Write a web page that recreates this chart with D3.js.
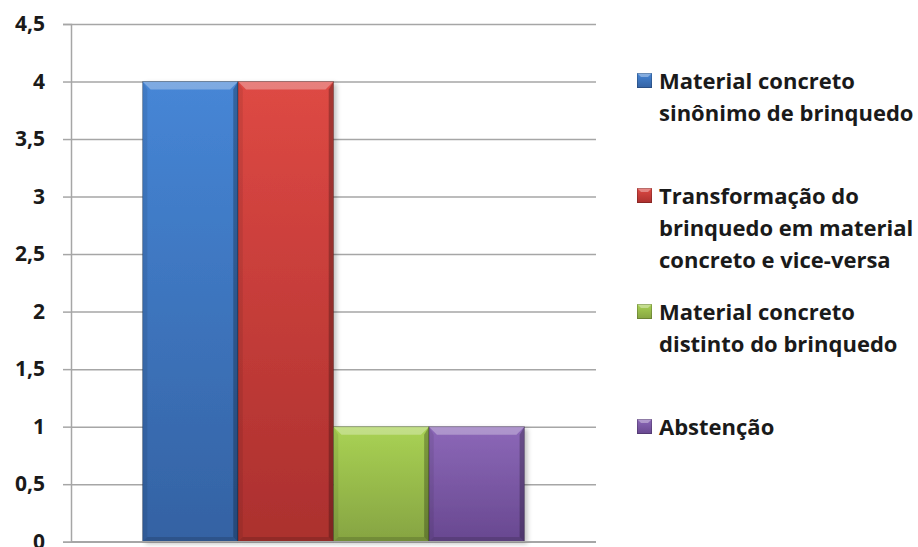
<!DOCTYPE html>
<html>
<head>
<meta charset="utf-8">
<script src="https://cdn.jsdelivr.net/npm/d3@7"></script>
<style>
  html, body { margin: 0; padding: 0; background: #fff; }
  svg { display: block; }
  text { font-family: "Open Sans", Lato, sans-serif; font-weight: 700; fill: #1a1a1a; }
</style>
</head>
<body>
<svg id="chart" width="918" height="547"></svg>
<script>
// Survey result: one category, four answer series
const category = ["Respostas"];
const seriesNames = [
  ["Material concreto", "sinônimo de brinquedo"],
  ["Transformação do", "brinquedo em material", "concreto e vice-versa"],
  ["Material concreto", "distinto do brinquedo"],
  ["Abstenção"]
];
const seriesValues = [4, 4, 1, 1];
const yTicks = [0, 0.5, 1, 1.5, 2, 2.5, 3, 3.5, 4, 4.5];
const seriesColors = [
  { top: "#4686d6", bottom: "#3462a3" },
  { top: "#de4944", bottom: "#ab302e" },
  { top: "#a9d254", bottom: "#86a442" },
  { top: "#8c68b8", bottom: "#684890" }
];

const svg = d3.select("#chart");
const plot = { left: 71, right: 596, top: 24, bottom: 541.7 };

const y = d3.scaleLinear().domain([0, 4.5]).range([plot.bottom, plot.top]);
const x0 = d3.scaleBand().domain(category).range([plot.left, plot.right]).padding(1.5 / 9.5);
const x1 = d3.scaleBand().domain(d3.range(seriesValues.length)).range([0, x0.bandwidth()]);

const defs = svg.append("defs");
seriesColors.forEach((c, i) => {
  const g = defs.append("linearGradient").attr("id", "fill" + i)
    .attr("x1", 0).attr("y1", 0).attr("x2", 0).attr("y2", 1);
  g.append("stop").attr("offset", "0%").attr("stop-color", c.top);
  g.append("stop").attr("offset", "100%").attr("stop-color", c.bottom);
});
const shadow = defs.append("filter").attr("id", "shadow")
  .attr("x", "-20%").attr("y", "-5%").attr("width", "140%").attr("height", "110%");
shadow.append("feGaussianBlur").attr("in", "SourceAlpha").attr("stdDeviation", 2.5);
shadow.append("feOffset").attr("dx", 3).attr("dy", 2).attr("result", "off");
shadow.append("feComponentTransfer").append("feFuncA").attr("type", "linear").attr("slope", 0.25);
const merge = shadow.append("feMerge");
merge.append("feMergeNode");
merge.append("feMergeNode").attr("in", "SourceGraphic");

// Gridlines
const grid = svg.append("g")
  .attr("transform", `translate(${plot.left},0)`)
  .call(d3.axisLeft(y).tickValues(yTicks).tickSize(-(plot.right - plot.left)).tickFormat(""));
grid.select(".domain").remove();
grid.selectAll("line").attr("stroke", "#a6a6a6").attr("stroke-width", 1.5);

// Y axis with comma decimals
const fmt = v => String(v).replace(".", ",");
const yAxis = svg.append("g")
  .attr("transform", `translate(${plot.left},0)`)
  .call(d3.axisLeft(y).tickValues(yTicks).tickSize(8).tickPadding(18).tickFormat(fmt));
yAxis.select(".domain").attr("stroke", "#a6a6a6").attr("stroke-width", 1.5);
yAxis.selectAll(".tick line").attr("stroke", "#a6a6a6").attr("stroke-width", 1.5);
yAxis.selectAll("text").style("font-size", "21px").attr("fill", "#1a1a1a")
  .style("font-family", "'Open Sans', sans-serif").style("font-weight", 700);

// Bars with bevel edges
const bars = svg.append("g").selectAll("g.bar")
  .data(seriesValues.map((v, i) => ({ v, i })))
  .join("g").attr("class", "bar");

bars.each(function (d) {
  const g = d3.select(this);
  const bx = x0(category[0]) + x1(d.i);
  const bw = x1.bandwidth();
  const by = y(d.v);
  const bh = y(0) - y(d.v);
  const b = 8;
  g.append("rect").attr("x", bx).attr("y", by).attr("width", bw).attr("height", bh)
    .attr("fill", `url(#fill${d.i})`).attr("filter", "url(#shadow)");
  // top bevel (highlight)
  g.append("path").attr("d", `M${bx},${by}L${bx + bw},${by}L${bx + bw - b},${by + b}L${bx + b},${by + b}Z`)
    .attr("fill", "#ffffff").attr("fill-opacity", 0.3);
  // left bevel
  g.append("path").attr("d", `M${bx},${by}L${bx + b * 0.6},${by + b}L${bx + b * 0.6},${by + bh - b * 0.6}L${bx},${by + bh}Z`)
    .attr("fill", "#000000").attr("fill-opacity", 0.08);
  // right bevel
  g.append("path").attr("d", `M${bx + bw},${by}L${bx + bw - b * 0.6},${by + b}L${bx + bw - b * 0.6},${by + bh - b * 0.6}L${bx + bw},${by + bh}Z`)
    .attr("fill", "#000000").attr("fill-opacity", 0.25);
  // bottom bevel
  g.append("path").attr("d", `M${bx},${by + bh}L${bx + b * 0.6},${by + bh - b * 0.6}L${bx + bw - b * 0.6},${by + bh - b * 0.6}L${bx + bw},${by + bh}Z`)
    .attr("fill", "#000000").attr("fill-opacity", 0.15);
  g.append("rect").attr("x", bx).attr("y", by).attr("width", bw).attr("height", bh)
    .attr("fill", "none").attr("stroke", "#000").attr("stroke-opacity", 0.25).attr("stroke-width", 1);
});

// Bottom axis line
svg.append("line")
  .attr("x1", plot.left).attr("x2", plot.right)
  .attr("y1", y(0)).attr("y2", y(0))
  .attr("stroke", "#a6a6a6").attr("stroke-width", 1.5);

// Legend
const legendY = [81, 196, 312, 427];
const legend = svg.append("g").selectAll("g.item")
  .data(seriesNames.map((lines, i) => ({ lines, i })))
  .join("g").attr("class", "item")
  .attr("transform", d => `translate(637,${legendY[d.i]})`);

legend.append("rect").attr("x", 0).attr("y", -8).attr("width", 15).attr("height", 15)
  .attr("fill", d => `url(#fill${d.i})`);
legend.append("path")
  .attr("d", "M0,-8L15,-8L11,-4L4,-4Z").attr("fill", "#fff").attr("fill-opacity", 0.35);
legend.append("rect").attr("x", 0.5).attr("y", -7.5).attr("width", 14).attr("height", 14)
  .attr("fill", "none").attr("stroke", "#000").attr("stroke-opacity", 0.2);

legend.append("text")
  .attr("x", 22).attr("y", 0)
  .style("font-size", "22px")
  .selectAll("tspan").data(d => d.lines).join("tspan")
  .attr("x", 22).attr("dy", (t, j) => j === 0 ? "0.36em" : 32)
  .text(t => t);
</script>
</body>
</html>
